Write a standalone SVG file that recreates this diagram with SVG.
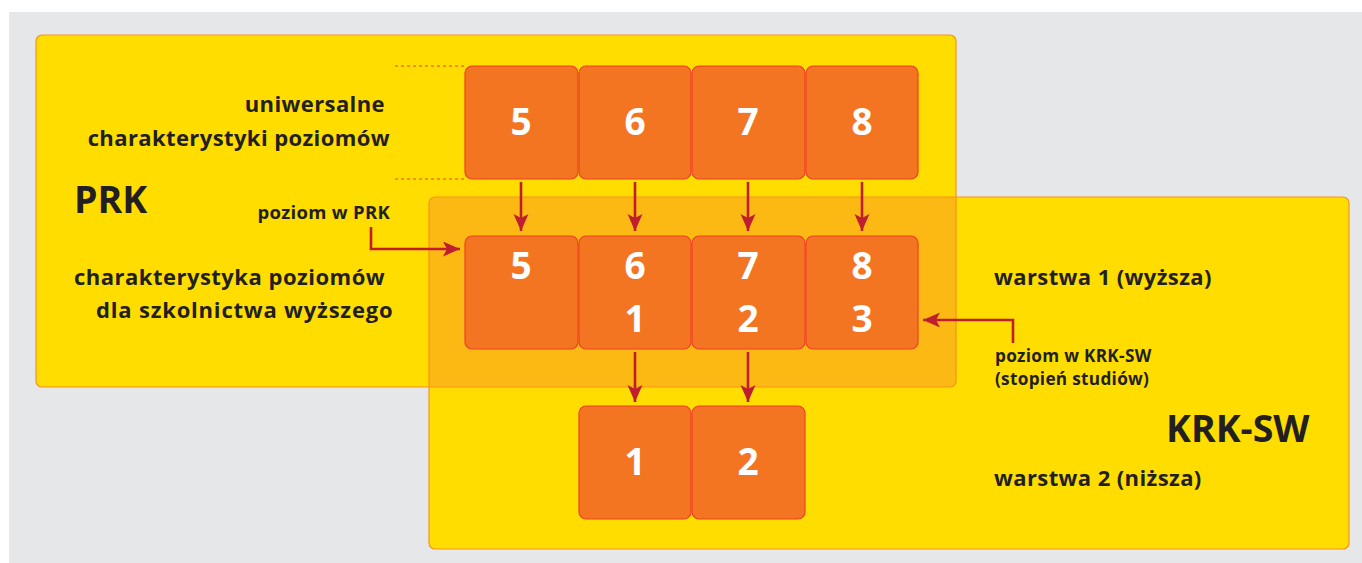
<svg xmlns="http://www.w3.org/2000/svg" width="1362" height="563" viewBox="0 0 1362 563">
  <style>
    .panel { fill: #FFDD00; }
    .edge { fill: none; stroke: #F7941D; stroke-width: 1.2; }
    .tile { fill: #F37421; stroke: #EF4123; stroke-width: 1.2; }
    .num { font-family: "Open Sans", "Liberation Sans", sans-serif; font-weight: 700; font-size: 37px; fill: #FFFFFF; text-anchor: middle; }
    .lbl { font-family: "Open Sans", "Liberation Sans", sans-serif; font-weight: 700; font-size: 22px; letter-spacing: 0.4px; fill: #231F20; }
    .mid { font-size: 18.5px; letter-spacing: 0.3px; }
    .sm { font-size: 17.2px; letter-spacing: 0.3px; }
    .big { font-size: 37.5px; letter-spacing: 0; }
    .end { text-anchor: end; }
    .guide { stroke: #EF4123; stroke-width: 1; stroke-dasharray: 3 3; fill: none; }
    .arrow { stroke: #BE1E2D; stroke-width: 2.6; fill: none; marker-end: url(#head); }
  </style>
  <defs>
    <marker id="head" markerUnits="userSpaceOnUse" markerWidth="18" markerHeight="16" refX="17" refY="7.5" orient="auto">
      <path d="M0,0 L17,7.5 L0,15 L4,7.5 Z" fill="#BE1E2D"/>
    </marker>
    <clipPath id="prkClip">
      <rect x="36" y="35" width="920" height="352" rx="6"/>
    </clipPath>
  </defs>

  <!-- background -->
  <rect x="0" y="0" width="1362" height="563" fill="#FFFFFF"/>
  <rect x="9" y="12" width="1353" height="551" fill="#E6E7E8"/>

  <!-- framework panels -->
  <g id="prk">
    <rect class="panel" x="36" y="35" width="920" height="352" rx="6"/>
  </g>
  <g id="krk-sw">
    <rect class="panel" x="429" y="197" width="920" height="352" rx="6"/>
  </g>
  <g id="overlap">
    <rect x="429" y="197" width="920" height="352" rx="6" fill="#FDB913" clip-path="url(#prkClip)"/>
  </g>
  <rect class="edge" x="36" y="35" width="920" height="352" rx="6"/>
  <rect class="edge" x="429" y="197" width="920" height="352" rx="6"/>

  <!-- dotted guides for the universal row -->
  <line class="guide" x1="395" y1="66" x2="465" y2="66"/>
  <line class="guide" x1="395" y1="179" x2="465" y2="179"/>

  <!-- universal level descriptors -->
  <g id="u5"><rect class="tile" x="465" y="66" width="113" height="113" rx="7"/><text class="num" x="521" y="135">5</text></g>
  <g id="u6"><rect class="tile" x="579" y="66" width="112" height="113" rx="7"/><text class="num" x="635" y="135">6</text></g>
  <g id="u7"><rect class="tile" x="692" y="66" width="113" height="113" rx="7"/><text class="num" x="748" y="135">7</text></g>
  <g id="u8"><rect class="tile" x="806" y="66" width="112" height="113" rx="7"/><text class="num" x="862" y="135">8</text></g>

  <!-- higher education layer 1 -->
  <g id="h5"><rect class="tile" x="465" y="236" width="113" height="113" rx="7"/><text class="num" x="521" y="279">5</text></g>
  <g id="h6"><rect class="tile" x="579" y="236" width="112" height="113" rx="7"/><text class="num" x="635" y="279">6</text><text class="num" x="635" y="332">1</text></g>
  <g id="h7"><rect class="tile" x="692" y="236" width="113" height="113" rx="7"/><text class="num" x="748" y="279">7</text><text class="num" x="748" y="332">2</text></g>
  <g id="h8"><rect class="tile" x="806" y="236" width="112" height="113" rx="7"/><text class="num" x="862" y="279">8</text><text class="num" x="862" y="332">3</text></g>

  <!-- higher education layer 2 -->
  <g id="l1"><rect class="tile" x="579" y="406" width="112" height="113" rx="7"/><text class="num" x="635" y="475">1</text></g>
  <g id="l2"><rect class="tile" x="692" y="406" width="113" height="113" rx="7"/><text class="num" x="748" y="475">2</text></g>

  <!-- connectors -->
  <g id="connectors">
    <line class="arrow" x1="521" y1="182" x2="521" y2="231"/>
    <line class="arrow" x1="635" y1="182" x2="635" y2="231"/>
    <line class="arrow" x1="748" y1="182" x2="748" y2="231"/>
    <line class="arrow" x1="862" y1="182" x2="862" y2="231"/>
    <line class="arrow" x1="635" y1="352" x2="635" y2="402"/>
    <line class="arrow" x1="748" y1="352" x2="748" y2="402"/>
    <polyline class="arrow" points="371,227 371,249 460,249"/>
    <polyline class="arrow" points="1013,343 1013,320 923,320"/>
  </g>

  <!-- labels -->
  <g id="labels">
    <text class="lbl end" x="385" y="112">uniwersalne</text>
    <text class="lbl end" x="390" y="146">charakterystyki poziomów</text>
    <text class="lbl big" x="74" y="213">PRK</text>
    <text class="lbl mid end" x="390" y="219">poziom w PRK</text>
    <text class="lbl end" x="385" y="285" textLength="311" lengthAdjust="spacing">charakterystyka poziomów</text>
    <text class="lbl end" x="393" y="318" textLength="297" lengthAdjust="spacing">dla szkolnictwa wyższego</text>
    <text class="lbl" x="994" y="285">warstwa 1 (wyższa)</text>
    <text class="lbl sm" x="995" y="362">poziom w KRK-SW</text>
    <text class="lbl sm" x="995" y="385">(stopień studiów)</text>
    <text class="lbl big" x="1166" y="442">KRK-SW</text>
    <text class="lbl" x="994" y="486">warstwa 2 (niższa)</text>
  </g>
</svg>
